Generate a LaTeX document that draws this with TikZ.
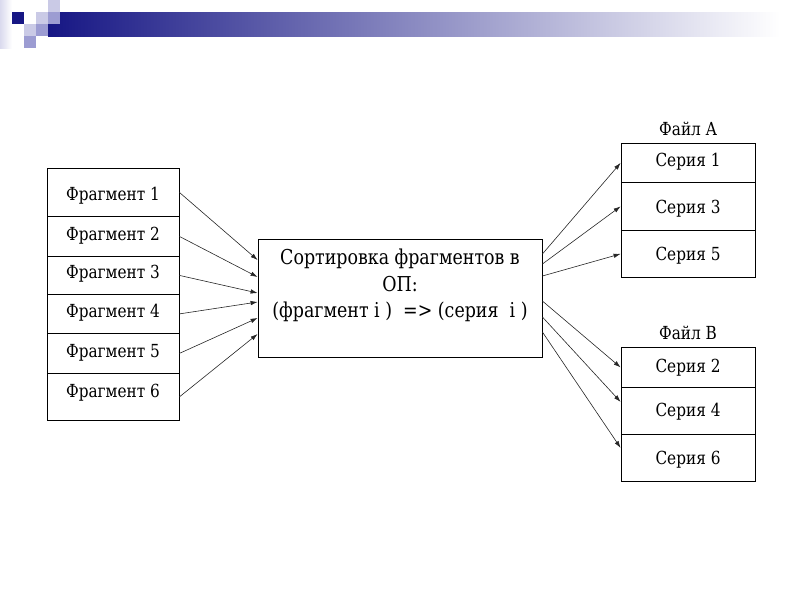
\documentclass[tikz,border=0pt]{standalone}
\usepackage{fontspec}
\setmainfont{DejaVu Serif}[FakeStretch=0.85]
\usetikzlibrary{arrows.meta}

\definecolor{barnavy}{RGB}{22,22,132}
\definecolor{barmid}{RGB}{174,174,215}
\definecolor{sqlight}{RGB}{202,202,230}
\definecolor{sqmid}{RGB}{156,156,210}
\definecolor{striplight}{RGB}{218,218,238}

\tikzset{
    cell/.style={draw, line width=0.8pt, anchor=north, inner xsep=0pt, inner ysep=0pt,
        font=\fontsize{18}{21.6}\selectfont},
    fragcell/.style={cell, minimum width=132pt},
    seriescell/.style={cell, minimum width=134pt},
    sortbox/.style={draw, line width=0.8pt, minimum width=284pt, minimum height=118pt, inner sep=0pt},
    flow/.style={draw=black!85, line width=0.6pt, -{Latex[length=7pt,width=4.5pt]}},
    filelabel/.style={anchor=base, font=\fontsize{18}{21.6}\selectfont},
}

\begin{document}
\begin{tikzpicture}[x=1pt, y=-1pt]
\useasboundingbox (0,0) rectangle (800,600);
% slide header
\shade[left color=barnavy, middle color=barmid, right color=white] (48,12) rectangle (780,36);
\shade[left color=striplight, right color=white] (0,0) rectangle (12,48);
\fill[barnavy] (12,12) rectangle (24,24);
\fill[sqlight] (48,0) rectangle (60,12);
\fill[sqlight] (36,12) rectangle (48,24);
\fill[sqmid] (48,12) rectangle (60,24);
\fill[sqlight] (24,24) rectangle (36,36);
\fill[sqmid] (36,24) rectangle (48,36);
\fill[sqmid] (24,36) rectangle (36,48);
% fragments
\foreach \i/\top/\b/\d in {1/168/32/16, 2/216/24/16, 3/256/22/16, 4/294/23/16, 5/333/24/16, 6/373/24/23}
    \node[fragcell, text height=\b pt, text depth=\d pt] (frag\i) at (113,\top) {Фрагмент \i};
% sorting box
\node[sortbox] (sort) at (400,298) {};
\node[anchor=north, align=center, font=\fontsize{20.5}{26.4}\selectfont] (sorttext) at ([yshift=-7pt]sort.north)
    {Сортировка фрагментов в\\ОП:\\(фрагмент i )\ \ =>\ (серия\ \ i )};
% file A
\foreach \i/\top/\b/\d in {1/143/23/16, 3/182/31/17, 5/230/30/17}
    \node[seriescell, text height=\b pt, text depth=\d pt] (ser\i) at (688,\top) {Серия \i};
% file B
\foreach \i/\top/\b/\d in {2/347/25/15, 4/387/29/18, 6/434/30/17}
    \node[seriescell, text height=\b pt, text depth=\d pt] (ser\i) at (688,\top) {Серия \i};
\node[filelabel] (fileA) at ([yshift=8pt]ser1.north) {Файл A};
\node[filelabel] (fileB) at ([yshift=8pt]ser2.north) {Файл B};
% arrows
\foreach \i/\dy in {1/38, 2/21, 3/5, 4/-4, 5/-20, 6/-36}
    \draw[flow] (frag\i.east) -- ([yshift=\dy pt]sort.west);
\foreach \i/\dy in {1/44, 3/34, 5/22}
    \draw[flow] ([yshift=\dy pt]sort.east) -- (ser\i.west);
\foreach \i/\dy/\ey in {2/-3/0, 4/-19/9, 6/-34/10}
    \draw[flow] ([yshift=\dy pt]sort.east) -- ([yshift=\ey pt]ser\i.west);
\end{tikzpicture}
\end{document}
